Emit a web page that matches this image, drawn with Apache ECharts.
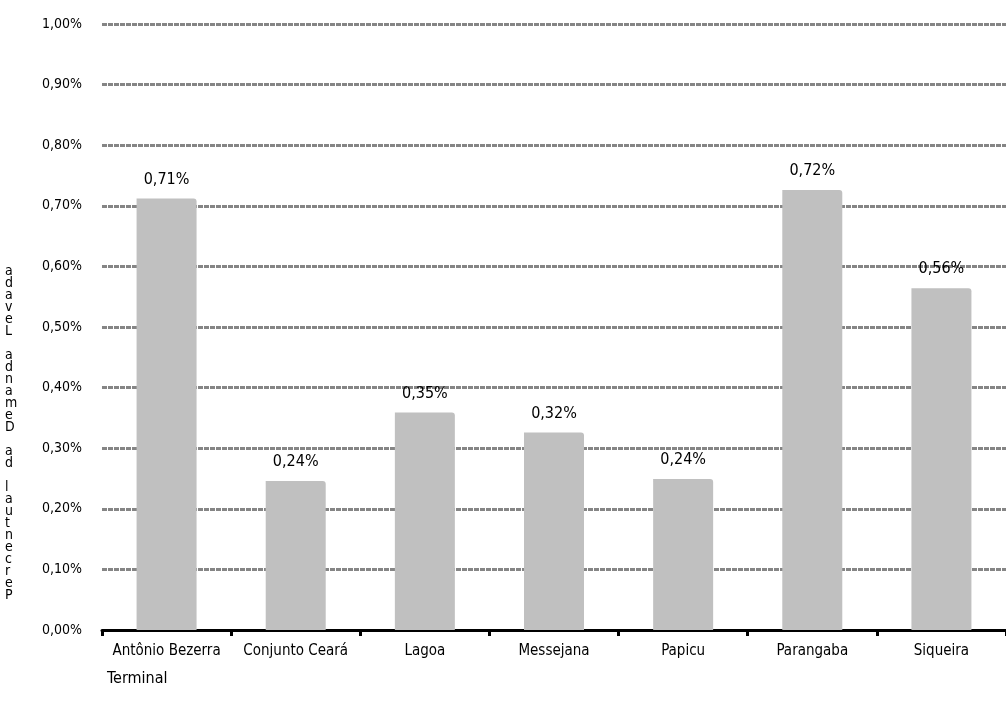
<!DOCTYPE html>
<html><head><meta charset="utf-8">
<script src="https://cdn.jsdelivr.net/npm/echarts@6/dist/echarts.min.js"></script>
<style>html,body{margin:0;padding:0;background:#fff}#c{width:1006px;height:706px}</style>
</head><body><div id="c"></div>
<script>
var categories = ["Antônio Bezerra","Conjunto Ceará","Lagoa","Messejana","Papicu","Parangaba","Siqueira"];
var values = [0.712, 0.246, 0.359, 0.326, 0.249, 0.726, 0.564];
var yTitle = "Percentual da Demanda Levada";
var xTitle = "Terminal";
var FONT = "'Liberation Sans Narrow', 'DejaVu Sans Condensed', sans-serif";
function fmt(v, d){ var f = Math.pow(10,d); var t = Math.floor(v*f+1e-9)/f; return t.toFixed(d).replace('.', ',') + '%'; }
var chart = echarts.init(document.getElementById('c'));
chart.setOption({
  animation:false,
  grid:{left:102,right:0,top:24,bottom:76,containLabel:false},
  title:{text:xTitle,left:102,top:666,textStyle:{fontFamily:FONT,fontSize:16,fontWeight:'normal',color:'#000'}},
  graphic:[{type:'text',left:5,top:264,style:{text:yTitle.split('').reverse().join('\n'),font:'14px '+FONT,lineHeight:12,fill:'#000',align:'center'}}],
  xAxis:{type:'category',data:categories,
    axisLine:{lineStyle:{color:'#000',width:3}},
    axisTick:{show:true,interval:0,length:6,lineStyle:{color:'#000',width:3}},
    axisLabel:{interval:0,color:'#000',fontFamily:FONT,fontSize:15,margin:14}},
  yAxis:{type:'value',min:0,max:1,interval:0.1,
    axisLine:{show:false},axisTick:{show:false},
    axisLabel:{color:'#000',fontFamily:FONT,fontSize:14,margin:20,formatter:function(v){return fmt(v,2);}},
    splitLine:{lineStyle:{color:'#858585',width:3,type:[5,1]}}},
  series:[{type:'bar',data:values,barWidth:60,
    itemStyle:{color:'#c0c0c0',borderRadius:[0,3,0,0]},
    label:{show:true,position:'top',distance:11,color:'#000',fontFamily:FONT,fontSize:16,formatter:function(p){return fmt(p.value,2);}}}]
});
</script></body></html>
